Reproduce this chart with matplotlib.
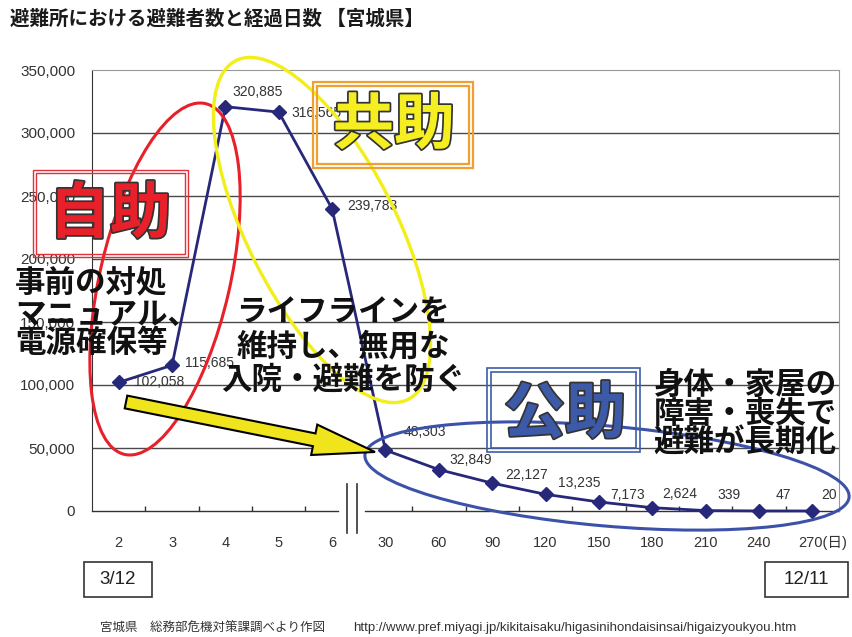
import matplotlib
matplotlib.use('Agg')
import matplotlib.pyplot as plt
import matplotlib.patches as mpatches
import matplotlib.patheffects as pe
from matplotlib.transforms import ScaledTranslation
from matplotlib.ticker import FixedLocator
import numpy as np

plt.rcParams['font.family'] = ['Liberation Sans', 'Noto Sans CJK JP', 'DejaVu Sans']
JP = ['Noto Sans CJK JP', 'DejaVu Sans']

# データ（宮城県 避難者数）
days = ['2', '3', '4', '5', '6', '30', '60', '90', '120', '150', '180', '210', '240', '270(日)']
evacuees = [102058, 115685, 320885, 316565, 239783, 48303, 32849, 22127,
            13235, 7173, 2624, 339, 47, 20]
y_ticks = [0, 50000, 100000, 150000, 200000, 250000, 300000, 350000]

title = '避難所における避難者数と経過日数 【宮城県】'
start_date = '3/12'
end_date = '12/11'
source = '宮城県　総務部危機対策課調べより作図'
url = 'http://www.pref.miyagi.jp/kikitaisaku/higasinihondaisinsai/higaizyoukyou.htm'

# ラベル位置のずれ（画素, 画像の向き）
lab_off = [(15, 0), (13, -2), (7, -15), (13, 1), (15, -3), (18, -18), (11, -10),
           (13, -8), (12, -11), (11, -7), (10, -14), (12, -16), (17, -16), (9, -16)]

fig = plt.figure(figsize=(8.52, 6.37), dpi=100)
ax = fig.add_axes([92 / 852, 1 - 511 / 637, 747 / 852, 441 / 637])

x = np.arange(len(days))
ax.plot(x, evacuees, color='#27287a', lw=2, marker='D', ms=7, zorder=3, clip_on=False)
for i, v in enumerate(evacuees):
    dx, dy = lab_off[i]
    ax.annotate(f'{v:,}', (x[i], v), xytext=(dx, -dy), textcoords='offset pixels',
                ha='left', va='center', fontsize=10, color='#333333', zorder=4)

ax.set_xlim(-0.5, len(days) - 0.5)
ax.set_ylim(0, 350000)
ax.set_yticks(y_ticks)
ax.set_yticklabels([f'{t:,}' for t in y_ticks])
ax.set_xticks(x)
ax.set_xticklabels(days)
ax.tick_params(axis='y', length=0, pad=12, labelsize=11, labelcolor='#333333')
ax.tick_params(axis='x', which='major', length=0, pad=18, labelsize=10.5, labelcolor='#333333')
lbl = ax.get_xticklabels()[-1]
lbl.set_ha('left')
lbl.set_transform(lbl.get_transform() + ScaledTranslation(-0.14, 0, fig.dpi_scale_trans))
ax.xaxis.set_minor_locator(FixedLocator([b + 0.5 for b in range(len(days) - 1) if b != 4]))
ax.tick_params(axis='x', which='minor', direction='in', length=3.5, width=1, color='#333333')

for t in y_ticks[1:-1]:
    ax.axhline(t, color='#4a4a4a', lw=1, zorder=1)
ax.spines['bottom'].set_visible(False)
ax.spines['left'].set_color('#333333')
ax.spines['top'].set_color('#999999')
ax.spines['right'].set_color('#999999')

# 省略線
ax.plot([-0.5, 4.11], [0, 0], color='#333333', lw=1, clip_on=False, zorder=2)
ax.plot([4.62, len(days) - 0.5], [0, 0], color='#333333', lw=1, clip_on=False, zorder=2)
for bx in [4.28, 4.47]:
    ax.plot([bx, bx], [-17500, 21500], color='#333333', lw=1.2, clip_on=False)

# 注記レイヤー（画素座標）
ov = fig.add_axes([0, 0, 1, 1], zorder=5)
ov.set_xlim(0, 852)
ov.set_ylim(637, 0)
ov.axis('off')

ov.text(10, 19, title, fontsize=14, fontweight='bold', family=JP, ha='left', va='center', color='#1a1a1a')

ov.add_patch(mpatches.Ellipse((165, 279), 360, 130, angle=-77, fill=False, ec='#e8202a', lw=2.2, zorder=2))
ov.add_patch(mpatches.Ellipse((322, 230), 380, 148, angle=63, fill=False, ec='#f2ee1a', lw=2.4, zorder=2))
ov.add_patch(mpatches.Ellipse((607, 476), 486, 100, angle=5, fill=False, ec='#3c52a8', lw=2.2, zorder=2))

ov.add_patch(mpatches.FancyArrow(126, 402, 249, 50, width=13, head_width=31, head_length=62,
                                 length_includes_head=True, fc='#f0e41c', ec='black', lw=1.5, zorder=3))


def double_box(x0, y0, x1, y1, color, gap, lw):
    ov.add_patch(mpatches.Rectangle((x0, y0), x1 - x0, y1 - y0, fill=False, ec=color, lw=lw, zorder=4))
    ov.add_patch(mpatches.Rectangle((x0 + gap, y0 + gap), x1 - x0 - 2 * gap, y1 - y0 - 2 * gap,
                                    fill=False, ec=color, lw=lw, zorder=4))


double_box(33, 170, 188, 257, '#e0303a', 3, 1.0)
double_box(313, 82, 473, 168, '#f0a030', 4, 1.6)
double_box(487, 368, 640, 452, '#3a5fa8', 4, 1.2)

stroke = [pe.withStroke(linewidth=2.5, foreground='#333333')]
ov.text(110, 215, '自助', fontsize=44, fontweight='bold', family=JP, color='#e8202a',
        ha='center', va='center', path_effects=stroke, zorder=5)
ov.text(394, 126, '共助', fontsize=44, fontweight='bold', family=JP, color='#f5ee20',
        ha='center', va='center', path_effects=stroke, zorder=5)
ov.text(565, 415, '公助', fontsize=44, fontweight='bold', family=JP, color='#3d5aa8',
        ha='center', va='center', path_effects=stroke, zorder=5)

for s, yy in zip(['事前の対処', 'マニュアル、', '電源確保等'], [283, 315, 343]):
    ov.text(15, yy, s, fontsize=22, fontweight='bold', family=JP, ha='left', va='center',
            color='#111111', zorder=6)
for s, yy in zip(['ライフラインを', '維持し、無用な', '入院・避難を防ぐ'], [312, 346, 380]):
    ov.text(343, yy, s, fontsize=22, fontweight='bold', family=JP, ha='center', va='center',
            color='#111111', zorder=6)
for s, yy in zip(['身体・家屋の', '障害・喪失で', '避難が長期化'], [385, 414, 442]):
    ov.text(745, yy, s, fontsize=22, fontweight='bold', family=JP, ha='center', va='center',
            color='#111111', zorder=6)

ov.add_patch(mpatches.Rectangle((84, 562), 68, 35, fill=False, ec='#333333', lw=1.2))
ov.text(118, 580, start_date, fontsize=13.5, ha='center', va='center', color='#222222')
ov.add_patch(mpatches.Rectangle((765, 562), 83, 35, fill=False, ec='#333333', lw=1.2))
ov.text(806, 580, end_date, fontsize=13.5, ha='center', va='center', color='#222222')

ov.text(100, 628, source, fontsize=9, family=JP, ha='left', va='center', color='#333333')
ov.text(353, 628, url, fontsize=9.5, ha='left', va='center', color='#333333')

fig.savefig('out.png', dpi=100, facecolor='white')
